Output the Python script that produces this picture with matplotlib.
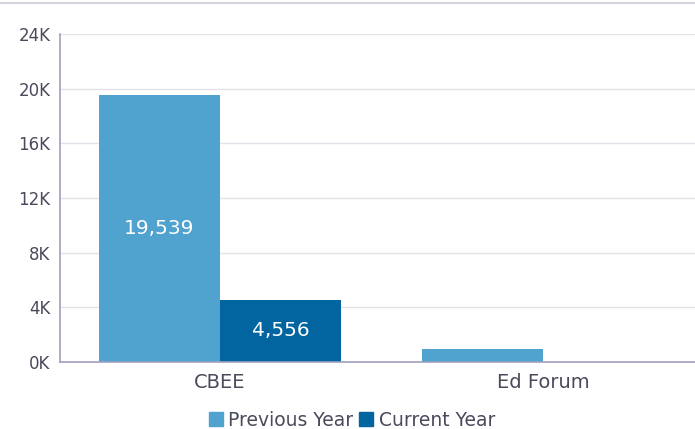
import numpy as np
import matplotlib.pyplot as plt
from matplotlib.patches import Patch

plt.rcParams['font.family'] = ['DejaVu Sans']

# données
categories = ["CBEE", "Ed Forum"]
previous_year = [19539, 980]
current_year = [4556, 0]
series_names = ["Previous Year", "Current Year"]
colors = ["#50a2cf", "#03659f"]

fig = plt.figure(figsize=(6.95, 4.29), dpi=100)
ax = fig.add_axes([60 / 695, 1 - 362 / 429, 1 - 60 / 695, (362 - 34) / 429])

x = np.arange(len(categories))
w = 0.375
bars_prev = ax.bar(x - w / 2, previous_year, w, color=colors[0], zorder=2)
bars_cur = ax.bar(x + w / 2, current_year, w, color=colors[1], zorder=2)

# valeurs dans les barres
for bars, vals in [(bars_prev, previous_year), (bars_cur, current_year)]:
    for b, v in zip(bars, vals):
        if v > 3000:
            ax.text(b.get_x() + b.get_width() / 2, v / 2, f"{v:,}", ha="center", va="center",
                    color="white", fontsize=14.5)

ax.set_xlim(-0.495, 1.47)
ax.set_ylim(0, 24000)
ax.set_yticks(np.arange(0, 24001, 4000))
ax.set_yticklabels([f"{int(t / 1000)}K" for t in np.arange(0, 24001, 4000)])
ax.set_xticks(x)
ax.set_xticklabels(categories)

tick_color = "#4a4a5c"
ax.tick_params(axis="y", length=0, pad=7, labelsize=12, labelcolor=tick_color)
ax.tick_params(axis="x", length=0, pad=8, labelsize=14, labelcolor=tick_color)
ax.grid(axis="y", color="#e2e2ea", linewidth=1, zorder=0)
for s in ["top", "right"]:
    ax.spines[s].set_visible(False)
for s in ["left", "bottom"]:
    ax.spines[s].set_color("#a0a0c0")
    ax.spines[s].set_linewidth(1.2)

# ligne grise en haut
fig.add_artist(plt.Line2D([0, 1], [1 - 2.5 / 429, 1 - 2.5 / 429], color="#d4d4dc", linewidth=1.5))

handles = [Patch(color=c) for c in colors]
fig.legend(handles, series_names, loc="center", bbox_to_anchor=(352 / 695, 1 - 420 / 429), ncol=2,
           frameon=False, fontsize=13.5, handlelength=0.75, handleheight=0.75, handletextpad=0.3,
           columnspacing=0.3, labelcolor=tick_color)

plt.savefig("out.png", dpi=100)
